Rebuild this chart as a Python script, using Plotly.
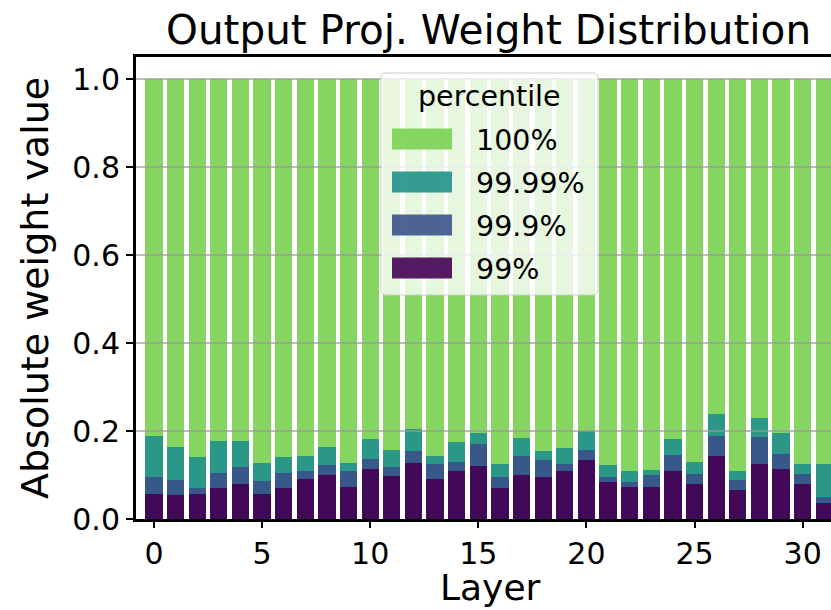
import plotly.graph_objects as go

# ---------------- data ----------------
layers = list(range(32))
p100 = [1.0] * 32
p9999 = [0.189, 0.163, 0.140, 0.177, 0.177, 0.128, 0.141, 0.143, 0.163, 0.128,
         0.181, 0.157, 0.205, 0.143, 0.174, 0.196, 0.125, 0.183, 0.154, 0.161,
         0.200, 0.123, 0.108, 0.111, 0.181, 0.130, 0.239, 0.108, 0.230, 0.196,
         0.125, 0.125]
p999 = [0.095, 0.089, 0.070, 0.105, 0.118, 0.086, 0.105, 0.108, 0.123, 0.110,
        0.136, 0.119, 0.155, 0.126, 0.130, 0.170, 0.096, 0.143, 0.134, 0.125,
        0.156, 0.096, 0.083, 0.100, 0.145, 0.103, 0.189, 0.088, 0.187, 0.148,
        0.103, 0.050]
p99 = [0.057, 0.054, 0.057, 0.070, 0.079, 0.057, 0.070, 0.090, 0.100, 0.072,
       0.114, 0.098, 0.128, 0.090, 0.108, 0.121, 0.070, 0.101, 0.096, 0.108,
       0.134, 0.083, 0.072, 0.073, 0.110, 0.079, 0.143, 0.066, 0.126, 0.114,
       0.079, 0.037]

series_names = ["100%", "99.99%", "99.9%", "99%"]
series_vals = [p100, p9999, p999, p99]
colors = ["#7ad151", "#21918c", "#3b528b", "#440154"]

yticks = [0.0, 0.2, 0.4, 0.6, 0.8, 1.0]
xticks = [0, 5, 10, 15, 20, 25, 30]

title_text = "Output Proj. Weight Distribution"
xlabel = "Layer"
ylabel = "Absolute weight value"
legend_title = "percentile"

# ---------------- layout geometry ----------------
W, H = 831, 610
L, R, T, B = 136, 0, 57, 91
PW = W - L - R
PH = H - T - B
FONT = "DejaVu Sans"


def px(xpix):
    return (xpix - L) / PW


def py(ypix):
    return (H - B - ypix) / PH


fig = go.Figure()
for name, vals, col in zip(series_names, series_vals, colors):
    fig.add_trace(go.Bar(x=layers, y=vals, name=name, width=0.8,
                         marker=dict(color=col, line=dict(width=0)),
                         opacity=0.9, showlegend=False))

shapes = []
# grid lines above bars
for v in yticks[1:]:
    shapes.append(dict(type="line", xref="paper", x0=0, x1=1, yref="y", y0=v, y1=v,
                       line=dict(color="rgba(150,150,150,0.85)", width=1.5), layer="above"))

# legend box (rounded)
bx0, bx1, by0, by1 = px(381), px(598), py(73), py(295)
rx, ry = 5 / PW, 5 / PH
path = (f"M {bx0+rx},{by0} L {bx1-rx},{by0} Q {bx1},{by0} {bx1},{by0-ry} "
        f"L {bx1},{by1+ry} Q {bx1},{by1} {bx1-rx},{by1} L {bx0+rx},{by1} "
        f"Q {bx0},{by1} {bx0},{by1+ry} L {bx0},{by0-ry} Q {bx0},{by0} {bx0+rx},{by0} Z")
shapes.append(dict(type="path", xref="paper", yref="paper", path=path,
                   fillcolor="rgba(255,255,255,0.8)", line=dict(color="#cccccc", width=1),
                   layer="above"))

annotations = []
annotations.append(dict(text=legend_title, xref="paper", yref="paper", x=px(489), y=py(97),
                        showarrow=False, xanchor="center", yanchor="middle",
                        font=dict(family=FONT, size=28.5, color="black")))
item_y = [139, 182, 225, 268]
for name, col, yc in zip(series_names, colors, item_y):
    shapes.append(dict(type="rect", xref="paper", yref="paper",
                       x0=px(392), x1=px(452), y0=py(yc - 10.5), y1=py(yc + 10.5),
                       fillcolor=col, opacity=0.9, line=dict(width=0), layer="above"))
    annotations.append(dict(text=name, xref="paper", yref="paper", x=px(474), y=py(yc + 1),
                            showarrow=False, xanchor="left", yanchor="middle",
                            font=dict(family=FONT, size=28.5, color="black")))

# titles
annotations.append(dict(text=title_text, xref="paper", yref="paper", x=px(488), y=py(30),
                        showarrow=False, xanchor="center", yanchor="middle",
                        font=dict(family=FONT, size=40.5, color="black")))
annotations.append(dict(text=xlabel, xref="paper", yref="paper", x=px(490), y=py(587),
                        showarrow=False, xanchor="center", yanchor="middle",
                        font=dict(family=FONT, size=36, color="black")))
annotations.append(dict(text=ylabel, xref="paper", yref="paper", x=px(35), y=py(288),
                        showarrow=False, xanchor="center", yanchor="middle", textangle=-90,
                        font=dict(family=FONT, size=38, color="black")))

fig.update_layout(
    width=W, height=H,
    margin=dict(l=L, r=R, t=T, b=B, pad=0),
    barmode="overlay",
    bargap=0,
    plot_bgcolor="white", paper_bgcolor="white",
    font=dict(family=FONT, size=30, color="black"),
    shapes=shapes, annotations=annotations,
    showlegend=False,
    xaxis=dict(range=[-0.83, 31.31], tickmode="array", tickvals=xticks,
               ticktext=[str(t) for t in xticks],
               showgrid=False, zeroline=False, showline=True, linecolor="black",
               linewidth=3, mirror=True, ticks="outside", ticklen=6, tickwidth=1.5,
               tickcolor="black", tickfont=dict(family=FONT, size=30),
               layer="above traces"),
    yaxis=dict(range=[0, 1.05], tickmode="array", tickvals=yticks,
               ticktext=[f"{t:.1f}" for t in yticks],
               showgrid=False, zeroline=False, showline=True, linecolor="black",
               linewidth=3, ticks="outside", ticklen=7, tickwidth=1.5,
               tickcolor="black", tickfont=dict(family=FONT, size=30),
               layer="above traces"),
)

fig.write_html("out.html")
